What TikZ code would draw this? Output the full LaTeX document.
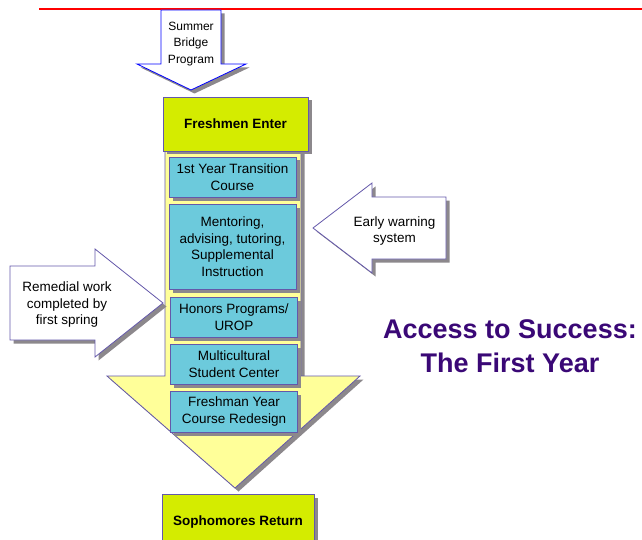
\documentclass[tikz,border=0pt]{standalone}
\usepackage{fontspec}
\setmainfont{Liberation Sans}
\usetikzlibrary{shadows}
\definecolor{edgepurple}{RGB}{100,88,170}
\definecolor{greenbox}{RGB}{212,236,0}
\definecolor{cyanbox}{RGB}{108,202,220}
\definecolor{paleyellow}{RGB}{255,255,153}
\definecolor{titlepurple}{RGB}{58,8,118}
\definecolor{shadowgrey}{RGB}{140,136,140}
\tikzset{
  boxshadow/.style={drop shadow={shadow xshift=3.5pt,shadow yshift=-3.5pt,fill=shadowgrey,opacity=1}},
  txt/.style={font=\fontsize{13.5}{16.5}\selectfont,align=center},
  greenbox/.style={draw=edgepurple,fill=greenbox,boxshadow,font=\fontsize{13.5}{16.5}\selectfont\bfseries,minimum height=54pt,inner sep=0pt},
  cyanbox/.style={txt,draw=edgepurple,fill=cyanbox,boxshadow,minimum width=127pt,inner sep=0pt},
  blockarrow/.style={draw=edgepurple,fill=white,boxshadow}
}
\begin{document}
\begin{tikzpicture}[x=1pt,y=-1pt,line width=0.8pt]
\useasboundingbox (0,0) rectangle (642,540);
\draw[red,line width=1.2pt] (39,9) -- (642,9);
% summer bridge arrow
\draw[blockarrow,draw=blue] (161,10) -- (221,10) -- (221,64) -- (246,64) -- (191,90) -- (137,64) -- (161,64) -- cycle;
\node[txt,font=\fontsize{12}{16.8}\selectfont] (bridge) at (191,44) {Summer\\Bridge\\Program};
% big yellow arrow
\draw[draw=edgepurple,fill=paleyellow,boxshadow] (165,148) -- (301,148) -- (301,376) -- (360,376) -- (235,488) -- (107,376) -- (165,376) -- cycle;
\node[greenbox,minimum width=145pt] (enter) at (235.5,124) {Freshmen Enter};
\node[cyanbox,minimum height=40pt] (transition) at (232.5,177) {1st Year Transition\\Course};
\node[cyanbox,minimum height=85pt] (mentoring) at (232.5,246.5) {Mentoring,\\advising, tutoring,\\Supplemental\\Instruction};
\node[cyanbox,minimum height=40pt] (honors) at (234,317) {Honors Programs/\\UROP};
\node[cyanbox,minimum height=40pt] (center) at (234,364) {Multicultural\\Student Center};
\node[cyanbox,minimum height=41pt] (redesign) at (234,411.5) {Freshman Year\\Course Redesign};
\node[greenbox,minimum width=152pt,minimum height=56pt] (return) at (238,522) {Sophomores Return};
% side arrows
\draw[blockarrow] (10,266) -- (95,266) -- (95,249) -- (163,303) -- (95,357) -- (95,340) -- (10,340) -- cycle;
\node[txt] (remedial) at (67,305) {Remedial work\\completed by\\first spring};
\draw[blockarrow] (313,228) -- (372,183) -- (372,197) -- (446,197) -- (446,259) -- (372,259) -- (372,273) -- cycle;
\node[txt] (warning) at (394.5,231) {Early warning\\system};
% title
\node[font=\fontsize{27}{34}\selectfont\bfseries,text=titlepurple,align=center] (title) at (510,346) {Access to Success:\\The First Year};
\end{tikzpicture}
\end{document}
